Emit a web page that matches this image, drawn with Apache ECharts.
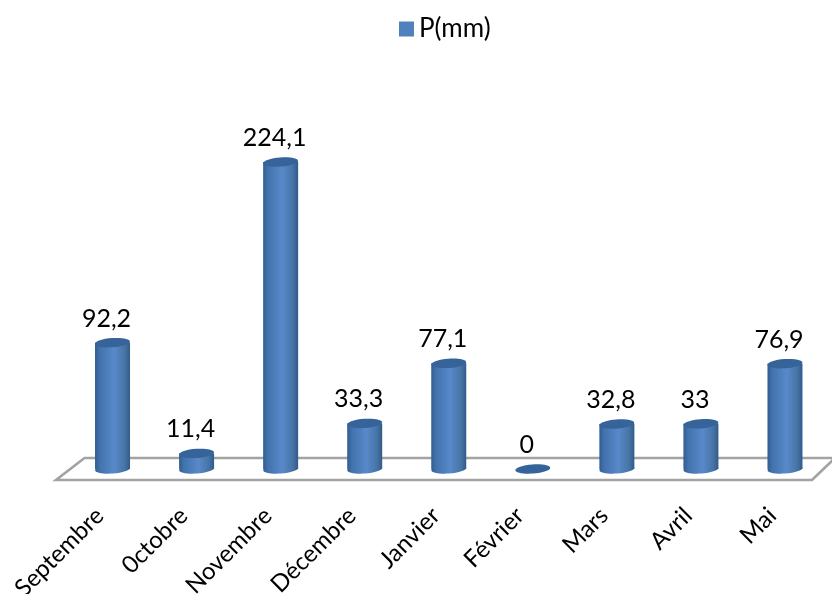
<!DOCTYPE html>
<html><head><meta charset="utf-8">
<style>html,body{margin:0;padding:0;background:#fff}#c{width:832px;height:594px}</style>
<script src="https://cdn.jsdelivr.net/npm/echarts@6/dist/echarts.min.js"></script>
</head><body><div id="c"></div>
<script>
const categories = ['Septembre','0ctobre','Novembre','Décembre','Janvier','Février','Mars','Avril','Mai'];
const rainfall = [92.2,11.4,224.1,33.3,77.1,0,32.8,33,76.9];
const seriesName = 'P(mm)';
const FONT = 'Lato, Carlito, "Open Sans", sans-serif';
const chart = echarts.init(document.getElementById('c'), null, {renderer:'canvas'});
const fmt = v => String(v).replace('.', ',');
const bodyFill = new echarts.graphic.LinearGradient(0,0,1,0,[
  {offset:0,color:'#315d90'},{offset:0.14,color:'#4373ad'},{offset:0.55,color:'#5889c9'},
  {offset:0.85,color:'#4774a6'},{offset:1,color:'#315a88'}]);
function renderCylinder(params, api){
  const i = api.value(0), v = api.value(1);
  const base = api.coord([i,0]), top = api.coord([i,v]);
  const w = 35, rx = w/2, ry = 4.6, rot = 0.07;
  const kids = [];
  if (v > 0){
    kids.push({type:'ellipse',shape:{cx:base[0],cy:base[1],rx:rx,ry:ry},rotation:rot,originX:base[0],originY:base[1],style:{fill:bodyFill}});
    kids.push({type:'rect',shape:{x:base[0]-rx,y:top[1],width:w,height:base[1]-top[1]},style:{fill:bodyFill}});
  }
  kids.push({type:'ellipse',shape:{cx:top[0],cy:top[1],rx:rx,ry:ry},rotation:rot,originX:top[0],originY:top[1],style:{fill:'#35639a'}});
  kids.push({type:'text',x:top[0]-6,y:top[1]-24,style:{text:fmt(v),fill:'#000',font:'25px '+FONT,align:'center',verticalAlign:'middle'}});
  return {type:'group',children:kids};
}
function renderFloor(params, api){
  const c = params.coordSys, y = c.y + c.height;
  const f = y + 11, b = y - 11, L = c.x, R = c.x + c.width;
  return {type:'polyline',shape:{points:[[R+8,b],[L+14,b],[L-14.5,f],[R-15,f],[R+8,b+0]]},
    style:{fill:'#fff',stroke:'#a3a3a3',lineWidth:2.6}};
}
chart.setOption({
  animation:false,
  backgroundColor:'#fff',
  legend:{data:[seriesName],top:11,left:394,itemWidth:15,itemHeight:15,itemGap:6,icon:'rect',
    textStyle:{fontFamily:FONT,fontSize:26,color:'#000'}},
  grid:{left:70.5,right:5,top:58,bottom:125,outerBoundsMode:'none'},
  xAxis:{type:'category',data:categories,axisLine:{show:false},axisTick:{show:false},
    axisLabel:{rotate:45,margin:30,interval:0,color:'#000',fontFamily:FONT,fontSize:24,padding:[0,18,11,0]}},
  yAxis:{type:'value',min:0,max:300,show:false},
  series:[
    {name:'sol',type:'custom',silent:true,z:1,renderItem:renderFloor,data:[0],encode:{x:0,y:0}},
    {name:seriesName,type:'custom',z:2,itemStyle:{color:'#4f81bd'},renderItem:renderCylinder,
     data:rainfall.map((v,i)=>[i,v]),encode:{x:0,y:1}}
  ]
});
</script></body></html>
